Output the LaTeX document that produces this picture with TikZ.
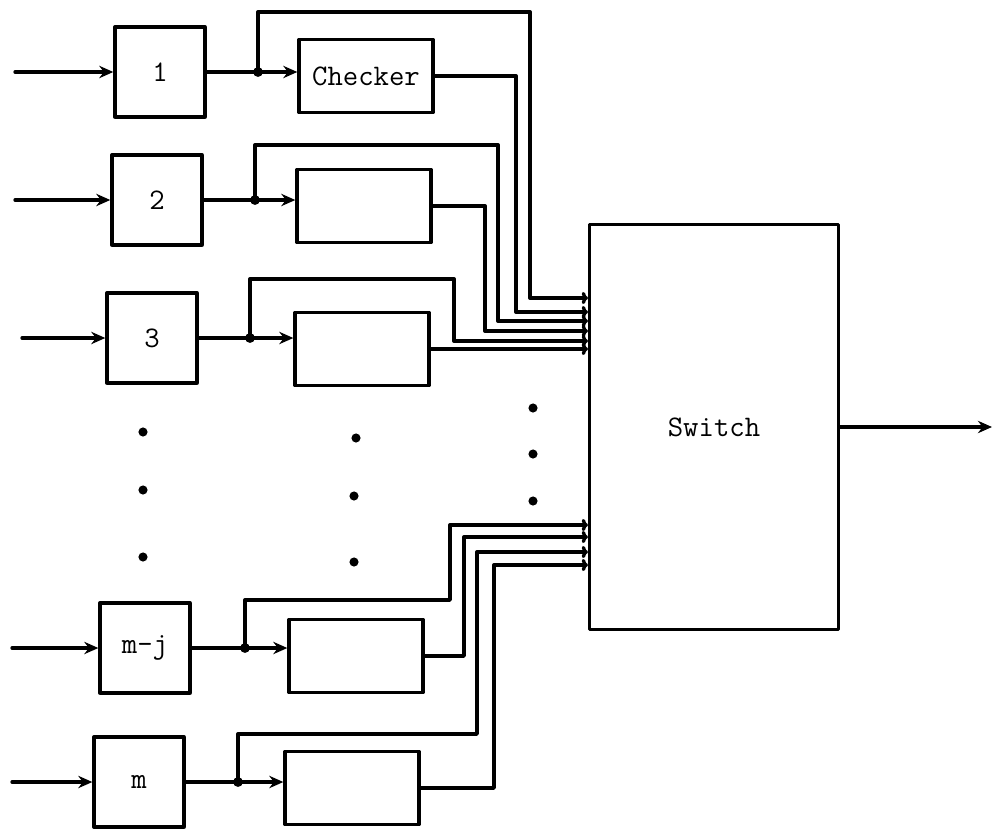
\documentclass[tikz,border=0pt]{standalone}
\usetikzlibrary{arrows.meta}

\begin{document}
\begin{tikzpicture}[x=0.02cm,y=-0.02cm,line cap=round,line join=round,
  font=\ttfamily\fontsize{17}{20}\selectfont,
  wire/.style={line width=1.9pt},
  arr/.style={wire,-{Stealth[length=8pt,width=7pt]}},
  port/.style={wire,-{To[length=3.5pt,width=7pt]}},
  stage/.style={draw,line width=1.9pt,minimum width=1.8cm,minimum height=1.8cm},
  check/.style={draw,line width=1.9pt,minimum width=2.68cm,minimum height=1.46cm},
  switchbox/.style={draw,line width=1.9pt,minimum width=4.98cm,minimum height=8.1cm}]
  \useasboundingbox (0,0) rectangle (1003,828);

  % first stages
  \node[stage] (b1) at (160,72) {1};
  \node[stage] (b2) at (157,200) {2};
  \node[stage] (b3) at (152,338) {3};
  \node[stage] (bmj) at (145,648) {m-j};
  \node[stage] (bm) at (139,782) {m};

  % checkers
  \node[check] (c1) at (366,76) {Checker};
  \node[check] (c2) at (364,206) {};
  \node[check] (c3) at (362,349) {};
  \node[check] (cmj) at (356,656) {};
  \node[check] (cm) at (352,788) {};

  \node[switchbox] (sw) at (714,427) {Switch};

  % inputs, junctions, output
  \coordinate (in1) at (15,72);
  \coordinate (in2) at (15,200);
  \coordinate (in3) at (22,338);
  \coordinate (inmj) at (12,648);
  \coordinate (inm) at (12,782);
  \coordinate (j1) at (258,72);
  \coordinate (j2) at (255,200);
  \coordinate (j3) at (250,338);
  \coordinate (jmj) at (245,648);
  \coordinate (jm) at (238,782);
  \coordinate (out) at (992,427);

  % switch ports
  \coordinate (p1) at (sw.west |- 0,298);
  \coordinate (p2) at (sw.west |- 0,312);
  \coordinate (p3) at (sw.west |- 0,321);
  \coordinate (p4) at (sw.west |- 0,331);
  \coordinate (p5) at (sw.west |- 0,341);
  \coordinate (p6) at (sw.west |- c3.east);
  \coordinate (p7) at (sw.west |- 0,525);
  \coordinate (p8) at (sw.west |- 0,537);
  \coordinate (p9) at (sw.west |- 0,552);
  \coordinate (p10) at (sw.west |- 0,565);

  \draw[arr] (in1) -- (b1.west);
  \draw[arr] (in2) -- (b2.west);
  \draw[arr] (in3) -- (b3.west);
  \draw[arr] (inmj) -- (bmj.west);
  \draw[arr] (inm) -- (bm.west);

  \draw[wire] (b1.east) -- (j1);
  \draw[wire] (b2.east) -- (j2);
  \draw[wire] (b3.east) -- (j3);
  \draw[wire] (bmj.east) -- (jmj);
  \draw[wire] (bm.east) -- (jm);
  \draw[arr] (j1) -- (j1 -| c1.west);
  \draw[arr] (j2) -- (j2 -| c2.west);
  \draw[arr] (j3) -- (j3 -| c3.west);
  \draw[arr] (jmj) -- (jmj -| cmj.west);
  \draw[arr] (jm) -- (jm -| cm.west);
  \foreach \j in {j1,j2,j3,jmj,jm}
    \fill (\j) circle (2.8pt);

  % to the switch
  \draw[port] (j1) |- (530,12) |- (p1);
  \draw[port] (c1.east) -| (516,312) -- (p2);
  \draw[port] (j2) |- (498,145) |- (p3);
  \draw[port] (c2.east) -| (485,331) -- (p4);
  \draw[port] (j3) |- (454,279) |- (p5);
  \draw[port] (c3.east) -- (p6);
  \draw[port] (jmj) |- (450,600) |- (p7);
  \draw[port] (cmj.east) -| (464,537) -- (p8);
  \draw[port] (jm) |- (477,734) |- (p9);
  \draw[port] (cm.east) -| (494,565) -- (p10);

  \draw[arr] (sw.east) -- (out);

  % dots
  \foreach \x/\y in {143/432,143/490,143/557,356/438,354/496,354/562,533/408,533/454,533/501}
    \fill (\x,\y) circle (2.6pt);
\end{tikzpicture}
\end{document}
